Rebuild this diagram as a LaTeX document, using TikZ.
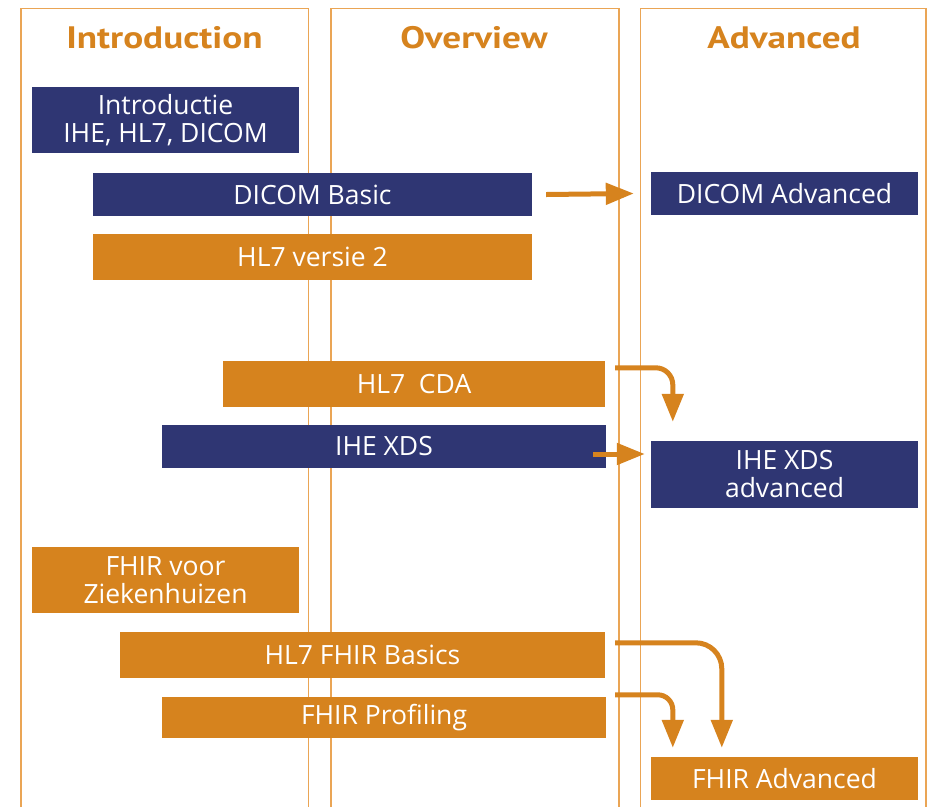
\documentclass[tikz,border=0pt]{standalone}
\usepackage{fontspec}
\setmainfont{Open Sans}
\newfontfamily\headfont[FakeStretch=1.2]{PT Sans}
\usetikzlibrary{arrows.meta}
\definecolor{navy}{RGB}{47,54,115}
\definecolor{orng}{RGB}{214,131,30}
\definecolor{colline}{RGB}{234,165,85}
\tikzset{
  box/.style={rectangle, inner sep=0pt, align=center, text=white,
    font=\fontsize{26.5}{28}\selectfont},
  navybox/.style={box, fill=navy},
  orangebox/.style={box, fill=orng},
  heading/.style={text=orng, font=\headfont\fontsize{31}{31}\selectfont\bfseries, inner sep=0pt, anchor=base},
  colborder/.style={draw=colline, line width=1.6pt},
  conn/.style={draw=orng, line width=5pt, -{Triangle[length=28pt,width=21pt]}}
}
\begin{document}
\begin{tikzpicture}[x=1pt,y=-1pt]
\useasboundingbox (0,0) rectangle (930,807);
% columns
\draw[colborder] (21,807) |- (308.5,8.5) -- (308.5,807);
\draw[colborder] (331,807) |- (619,8.5) -- (619,807);
\draw[colborder] (640.5,807) |- (926,8.5) -- (926,807);
\node[heading] (h1) at (164.5,48) {Introduction};
\node[heading] (h2) at (474,48) {Overview};
\node[heading] (h3) at (784,48) {Advanced};
% boxes
\node[navybox, minimum width=267pt, minimum height=66pt] (intro) at (165.5,120) {Introductie\\IHE, HL7, DICOM};
\node[navybox, minimum width=439pt, minimum height=43pt] (dicomb) at (312.5,194.5) {DICOM Basic};
\node[orangebox, minimum width=439pt, minimum height=46pt] (hl7v2) at (312.5,257) {HL7 versie 2};
\node[orangebox, minimum width=382pt, minimum height=46pt] (cda) at (414,384) {HL7\ \ CDA};
\node[navybox, minimum width=444pt, minimum height=43pt] (xds) at (384,446.5) {IHE XDS};
\node[navybox, minimum width=267pt, minimum height=43pt] (dicoma) at (784.5,193.5) {DICOM Advanced};
\node[navybox, minimum width=267pt, minimum height=67pt] (xdsa) at (784.5,474.5) {IHE XDS\\advanced};
\node[orangebox, minimum width=267pt, minimum height=66pt] (fhirzh) at (165.5,580) {FHIR voor\\Ziekenhuizen};
\node[orangebox, minimum width=485pt, minimum height=46pt] (fhirb) at (362.5,655) {HL7 FHIR Basics};
\node[orangebox, minimum width=444pt, minimum height=41pt] (fhirp) at (384,717.5) {FHIR Profiling};
\node[orangebox, minimum width=267pt, minimum height=43pt] (fhira) at (784.5,778.5) {FHIR Advanced};
% connectors
\draw[conn] ([xshift=14pt]dicomb.east) -- ([xshift=-17pt]dicoma.west);
\draw[conn, rounded corners=17pt] ([shift={(10,7)}]cda.north east) -| ([shift={(22,-19)}]xdsa.north west);
\draw[conn] ([shift={(-13,7.5)}]xds.east) -- ([shift={(-6,-20.5)}]xdsa.west);
\draw[conn, rounded corners=26pt] ([shift={(10,11)}]fhirb.north east) -| ([shift={(71,-9)}]fhira.north west);
\draw[conn, rounded corners=15pt] ([shift={(9,-2)}]fhirp.north east) -| ([shift={(22,-9)}]fhira.north west);
\end{tikzpicture}
\end{document}
